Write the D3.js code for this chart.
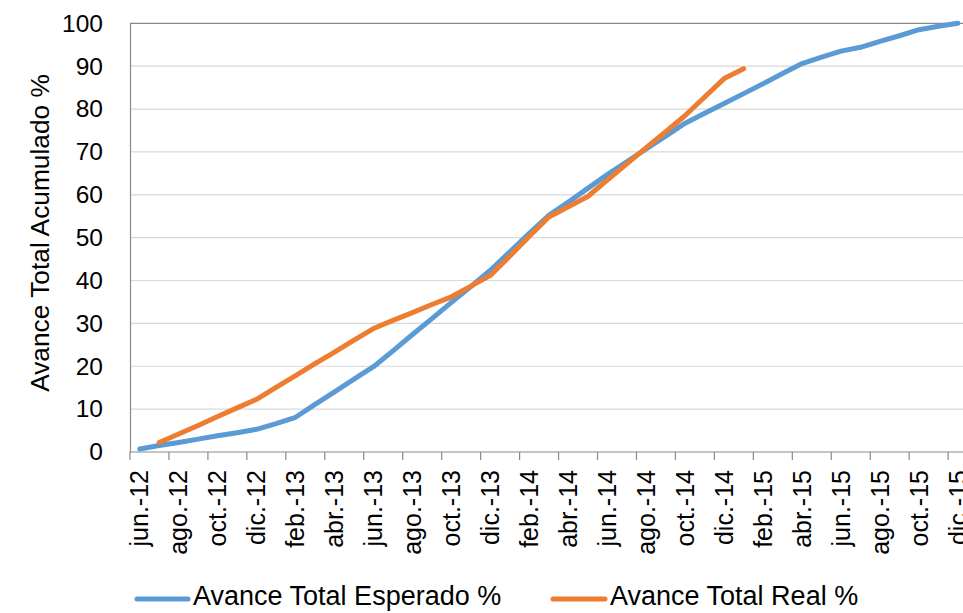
<!DOCTYPE html>
<html>
<head>
<meta charset="utf-8">
<script src="https://cdn.jsdelivr.net/npm/d3@7"></script>
<style>
  html, body { margin: 0; padding: 0; background: #fff; overflow: hidden; }
  svg { display: block; font-family: "Liberation Sans", Arial, sans-serif; }
</style>
</head>
<body>
<svg id="chart" width="963" height="613"></svg>
<script>
// Month categories (one per month)
const months = ["jun.-12","jul.-12","ago.-12","sep.-12","oct.-12","nov.-12","dic.-12",
  "ene.-13","feb.-13","mar.-13","abr.-13","may.-13","jun.-13","jul.-13","ago.-13","sep.-13","oct.-13","nov.-13","dic.-13",
  "ene.-14","feb.-14","mar.-14","abr.-14","may.-14","jun.-14","jul.-14","ago.-14","sep.-14","oct.-14","nov.-14","dic.-14",
  "ene.-15","feb.-15","mar.-15","abr.-15","may.-15","jun.-15","jul.-15","ago.-15","sep.-15","oct.-15","nov.-15","dic.-15"];

const esperado = [0.7,1.5,2.2,3.0,3.8,4.5,5.3,6.6,8.1,11.1,14.0,17.0,19.9,23.6,27.4,31.1,34.9,38.6,42.4,
  46.7,51.0,55.2,58.3,61.5,64.7,67.7,70.7,73.7,76.7,79.0,81.3,83.6,85.9,88.3,90.6,92.1,93.5,94.4,95.8,97.1,98.5,99.3,100];

const real = [null,2.2,4.2,6.2,8.3,10.3,12.3,15.1,17.8,20.6,23.3,26.1,28.8,30.7,32.5,34.4,36.2,38.7,41.2,
  45.7,50.3,54.8,57.2,59.6,63.4,67.2,71.0,74.7,78.5,82.8,87.1,89.4];

const yTicks = [0,10,20,30,40,50,60,70,80,90,100];
const seriesNames = ["Avance Total Esperado %", "Avance Total Real %"];
const colors = ["#5B9BD5", "#ED7D31"];
const yTitle = "Avance Total Acumulado %";

const svg = d3.select("#chart");
const mLeft = 130, mTop = 23.3, mBottom = 452, step = 19.48;

const x = d3.scaleBand().domain(months).range([mLeft, mLeft + step * months.length]).padding(0);
const y = d3.scaleLinear().domain([0, 100]).range([mBottom, mTop]);

// gridlines
svg.append("g").selectAll("line").data(yTicks.filter(d => d > 0 && d < 100)).join("line")
  .attr("x1", mLeft).attr("x2", 963)
  .attr("y1", d => y(d)).attr("y2", d => y(d))
  .attr("stroke", "#D9D9D9").attr("stroke-width", 1.2);

// plot border (top)
svg.append("line").attr("x1", mLeft).attr("x2", 963).attr("y1", y(100)).attr("y2", y(100))
  .attr("stroke", "#898989").attr("stroke-width", 1.2);

// y axis
const yAxis = d3.axisLeft(y).tickValues(yTicks).tickSize(0).tickPadding(27);
const gy = svg.append("g").attr("transform", `translate(${mLeft},0)`).call(yAxis);
gy.select(".domain").attr("stroke", "#898989").attr("stroke-width", 1.2);
gy.selectAll("text").attr("font-size", 24.5).attr("fill", "#000")
  .attr("font-family", "Liberation Sans, Arial, sans-serif");

// x axis: ticks every 2 months at band starts, labels at the band centre of the first month
const labelMonths = months.filter((m, i) => i % 2 === 0);
const gx = svg.append("g").attr("transform", `translate(0,${mBottom})`);
gx.append("line").attr("x1", mLeft).attr("x2", 963).attr("y1", 0).attr("y2", 0)
  .attr("stroke", "#898989").attr("stroke-width", 1.2);
gx.selectAll("line.tick").data(labelMonths).join("line").attr("class", "tick")
  .attr("x1", d => x(d)).attr("x2", d => x(d)).attr("y1", 0).attr("y2", 8)
  .attr("stroke", "#898989").attr("stroke-width", 1.2);
gx.selectAll("text").data(labelMonths).join("text")
  .attr("transform", d => `translate(${x(d) + x.bandwidth() / 2},18) rotate(-90)`)
  .attr("text-anchor", "end").attr("dy", "0.35em")
  .attr("font-size", 25).attr("fill", "#000").text(d => d);

// y title
svg.append("text").attr("transform", `translate(40,233) rotate(-90)`)
  .attr("text-anchor", "middle").attr("dy", "0.35em").attr("font-size", 26.3).attr("fill", "#000")
  .text(yTitle);

// lines
const line = d3.line()
  .defined(d => d.v !== null && d.v !== undefined)
  .x(d => x(d.m) + x.bandwidth() / 2)
  .y(d => y(d.v));

[esperado, real].forEach((vals, k) => {
  const data = months.map((m, i) => ({ m, v: i < vals.length ? vals[i] : null }));
  svg.append("path").datum(data).attr("d", line)
    .attr("fill", "none").attr("stroke", colors[k]).attr("stroke-width", 5)
    .attr("stroke-linejoin", "round").attr("stroke-linecap", "round");
});

// legend
const legendItems = [
  { name: seriesNames[0], color: colors[0], x1: 137, x2: 188, tx: 193 },
  { name: seriesNames[1], color: colors[1], x1: 553, x2: 605, tx: 610 }
];
const lg = svg.append("g");
legendItems.forEach(it => {
  lg.append("line").attr("x1", it.x1).attr("x2", it.x2).attr("y1", 599).attr("y2", 599)
    .attr("stroke", it.color).attr("stroke-width", 5).attr("stroke-linecap", "round");
  lg.append("text").attr("x", it.tx).attr("y", 596).attr("dy", "0.35em")
    .attr("font-size", 27).attr("fill", "#000").text(it.name);
});
</script>
</body>
</html>
